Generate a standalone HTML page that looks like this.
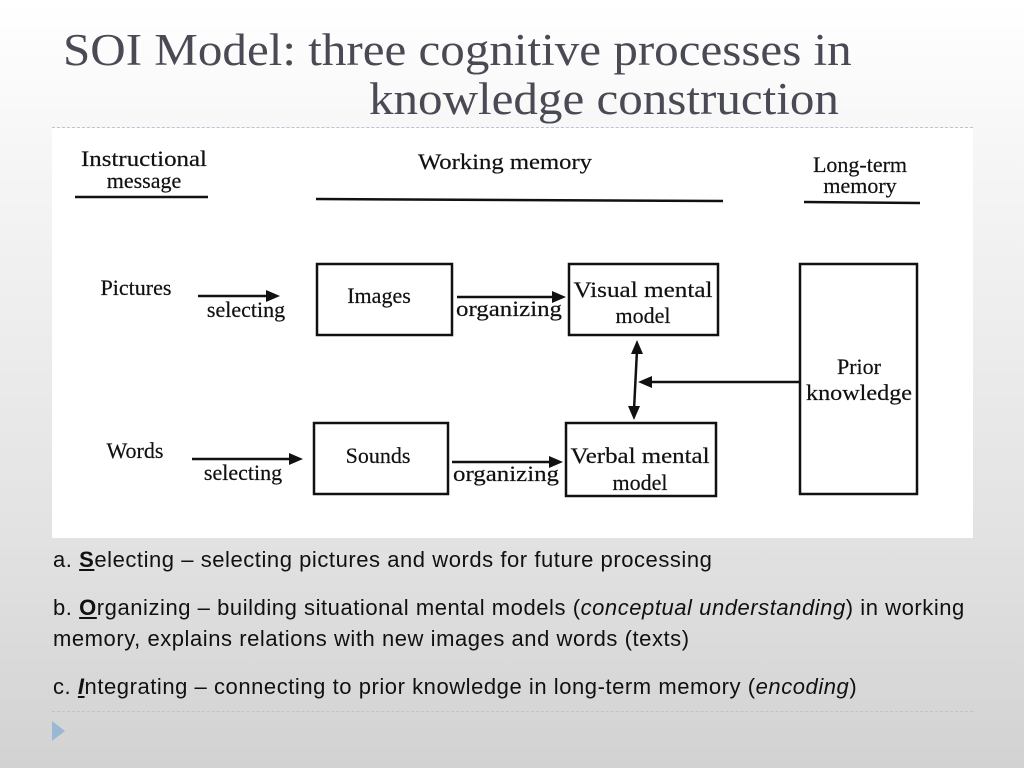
<!DOCTYPE html>
<html><head><style>
body{margin:0;width:1024px;height:768px;overflow:hidden;background:linear-gradient(#fff 0%,#f6f6f6 20%,#e2e2e2 70%,#d2d2d2 100%);position:relative;font-family:"Liberation Sans",sans-serif}
.t{position:absolute;font-family:"Liberation Serif",serif;font-size:45px;color:#4a4a55;white-space:nowrap;transform-origin:0 0;transform:scaleX(1.09)}
.b{position:absolute;left:53px;font-size:22px;color:#111;white-space:nowrap;letter-spacing:0.55px;font-family:"Liberation Sans",sans-serif}
.dash{position:absolute;left:52px;width:921px;border-top:1px dashed #b8c6d4}
</style></head><body>
<div class="t" style="left:63px;top:24px">SOI Model: three cognitive processes in</div>
<div class="t" style="left:369px;top:73px">knowledge construction</div>
<div class="dash" style="top:127px"></div>
<svg style="position:absolute;left:52px;top:128px" width="921" height="410" viewBox="52 128 921 410">
<rect x="52" y="128" width="921" height="410" fill="#fff"/>
<g font-family="Liberation Serif,serif" font-size="22" fill="#111" text-anchor="middle" stroke="#111" stroke-width="0.2">
<text x="144" y="166" textLength="126" lengthAdjust="spacingAndGlyphs">Instructional</text><text x="144" y="188">message</text>
<text x="505" y="169" textLength="174" lengthAdjust="spacingAndGlyphs">Working memory</text>
<text x="860" y="172">Long-term</text><text x="860" y="193">memory</text>
<text x="136" y="295">Pictures</text>
<text x="246" y="317">selecting</text>
<text x="379" y="303">Images</text>
<text x="509" y="316" textLength="106" lengthAdjust="spacingAndGlyphs">organizing</text>
<text x="643" y="297" textLength="139" lengthAdjust="spacingAndGlyphs">Visual mental</text><text x="643" y="323">model</text>
<text x="859" y="374">Prior</text><text x="859" y="400" textLength="106" lengthAdjust="spacingAndGlyphs">knowledge</text>
<text x="135" y="458">Words</text>
<text x="243" y="480">selecting</text>
<text x="378" y="463">Sounds</text>
<text x="506" y="481" textLength="106" lengthAdjust="spacingAndGlyphs">organizing</text>
<text x="640" y="463" textLength="139" lengthAdjust="spacingAndGlyphs">Verbal mental</text><text x="640" y="490">model</text>
</g>
<g stroke="#111" stroke-width="2.5" fill="none">
<line x1="75" y1="197" x2="208" y2="197"/>
<line x1="316" y1="199" x2="723" y2="201"/>
<line x1="804" y1="202" x2="920" y2="203"/>
<rect x="317" y="264" width="135" height="71"/>
<rect x="569" y="264" width="149" height="71"/>
<rect x="800" y="264" width="117" height="230"/>
<rect x="314" y="423" width="134" height="71"/>
<rect x="566" y="423" width="150" height="73"/>
<line x1="198" y1="296" x2="270" y2="296"/>
<line x1="457" y1="297" x2="555" y2="297"/>
<line x1="192" y1="459" x2="292" y2="459"/>
<line x1="452" y1="462" x2="552" y2="462"/>
<line x1="637" y1="350" x2="634" y2="410"/>
<line x1="800" y1="382" x2="650" y2="382"/>
</g>
<g fill="#111">
<polygon points="280,296 266,290 266,302"/>
<polygon points="566,297 552,291 552,303"/>
<polygon points="303,459 289,453 289,465"/>
<polygon points="563,462 549,456 549,468"/>
<polygon points="637,340 631,354 643,354"/>
<polygon points="634,420 628,406 640,406"/>
<polygon points="638,382 652,376 652,388"/>
</g>
</svg>
<div class="b" style="top:547px">a. <u><b>S</b></u>electing – selecting pictures and words for future processing</div>
<div class="b" style="top:595px">b. <u><b>O</b></u>rganizing – building situational mental models (<i>conceptual understanding</i>) in working</div>
<div class="b" style="top:626px">memory, explains relations with new images and words (texts)</div>
<div class="b" style="top:674px">c. <u><b><i>I</i></b></u>ntegrating – connecting to prior knowledge in long-term memory (<i>encoding</i>)</div>
<div class="dash" style="top:711px"></div>
<div style="position:absolute;left:52px;top:721px;width:0;height:0;border-left:13px solid #9ab8d4;border-top:10px solid transparent;border-bottom:10px solid transparent"></div>
</body></html>
